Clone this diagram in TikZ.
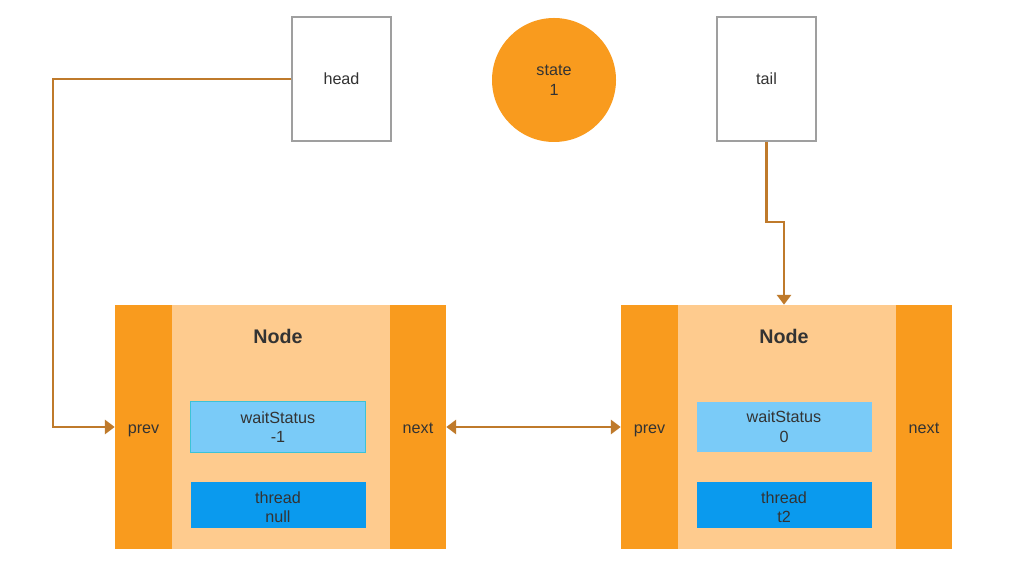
\documentclass[tikz,border=0pt]{standalone}
\usepackage{fontspec}
\setmainfont{Liberation Sans}
\usetikzlibrary{arrows.meta,positioning}
\definecolor{ptrline}{HTML}{BF7A2B}
\definecolor{colorange}{HTML}{F99B1E}
\definecolor{bodyorange}{HTML}{FECB8E}
\definecolor{waitblue}{HTML}{7ACBF8}
\definecolor{threadblue}{HTML}{0A9AEE}
\definecolor{waitedge}{HTML}{3CC3D6}
\definecolor{textgray}{HTML}{333333}

\begin{document}
\begin{tikzpicture}[x=0.025cm, y=-0.025cm,
  every node/.style={font=\fontsize{11.5}{14}\selectfont, text=textgray, inner sep=0pt},
  ptrbox/.style={draw=gray!75, line width=0.8pt, fill=white, minimum width=99*0.025cm, minimum height=124*0.025cm},
  bodybox/.style={fill=bodyorange, minimum width=331*0.025cm, minimum height=244*0.025cm},
  colbox/.style={fill=colorange, minimum width=57*0.025cm, minimum height=244*0.025cm, text height=9pt, text depth=0pt},
  fieldbox/.style={fill=waitblue, minimum width=175*0.025cm, minimum height=50*0.025cm, align=center},
  threadbox/.style={fill=threadblue, minimum width=175*0.025cm, minimum height=46*0.025cm, align=center, text height=25.5pt, text depth=0pt},
  ptr/.style={draw=ptrline, line width=1.7pt, -{Triangle[length=7pt,width=10pt]}}]
\useasboundingbox[fill=white] (0,0) rectangle (1012,569);
% head, state, tail
\node[ptrbox] (head) at (341.5,79) {head};
\node[circle, fill=colorange, minimum size=124*0.025cm, align=center] (state) at (554,80) {state\\1};
\node[ptrbox] (tail) at (766.5,79) {tail};
% the two queue nodes
\foreach \side/\x/\wait/\thr in {L/115/-1/null, R/621/0/t2} {
  \node[bodybox] (body\side) at (\x+165.5,427) {};
  \node[colbox] (prev\side) at (\x+28.5,427) {prev};
  \node[colbox, minimum width=56*0.025cm] (next\side) at (\x+303,427) {next};
  \node[font=\bfseries\fontsize{14}{16}\selectfont] (title\side) at (\x+163,336) {Node};
  \node[fieldbox] (wait\side) at (\x+163,427) {waitStatus\\\wait};
  \node[threadbox] (thread\side) at (\x+163,505) {thread\\\thr};
}
\draw[waitedge, line width=1pt] (waitL.north west) rectangle (waitL.south east);
% pointers
\coordinate (hbend) at (53,79);
\draw[ptr] (head.west) -- (hbend) |- (prevL.west);
\draw[ptr, {Triangle[length=7pt,width=10pt]}-{Triangle[length=7pt,width=10pt]}] (nextL.east) -- (prevR.west);
\coordinate (tbend) at (784,222);
\draw[ptr] (tail.south) |- (tbend) -- (tbend |- bodyR.north);
\end{tikzpicture}
\end{document}
